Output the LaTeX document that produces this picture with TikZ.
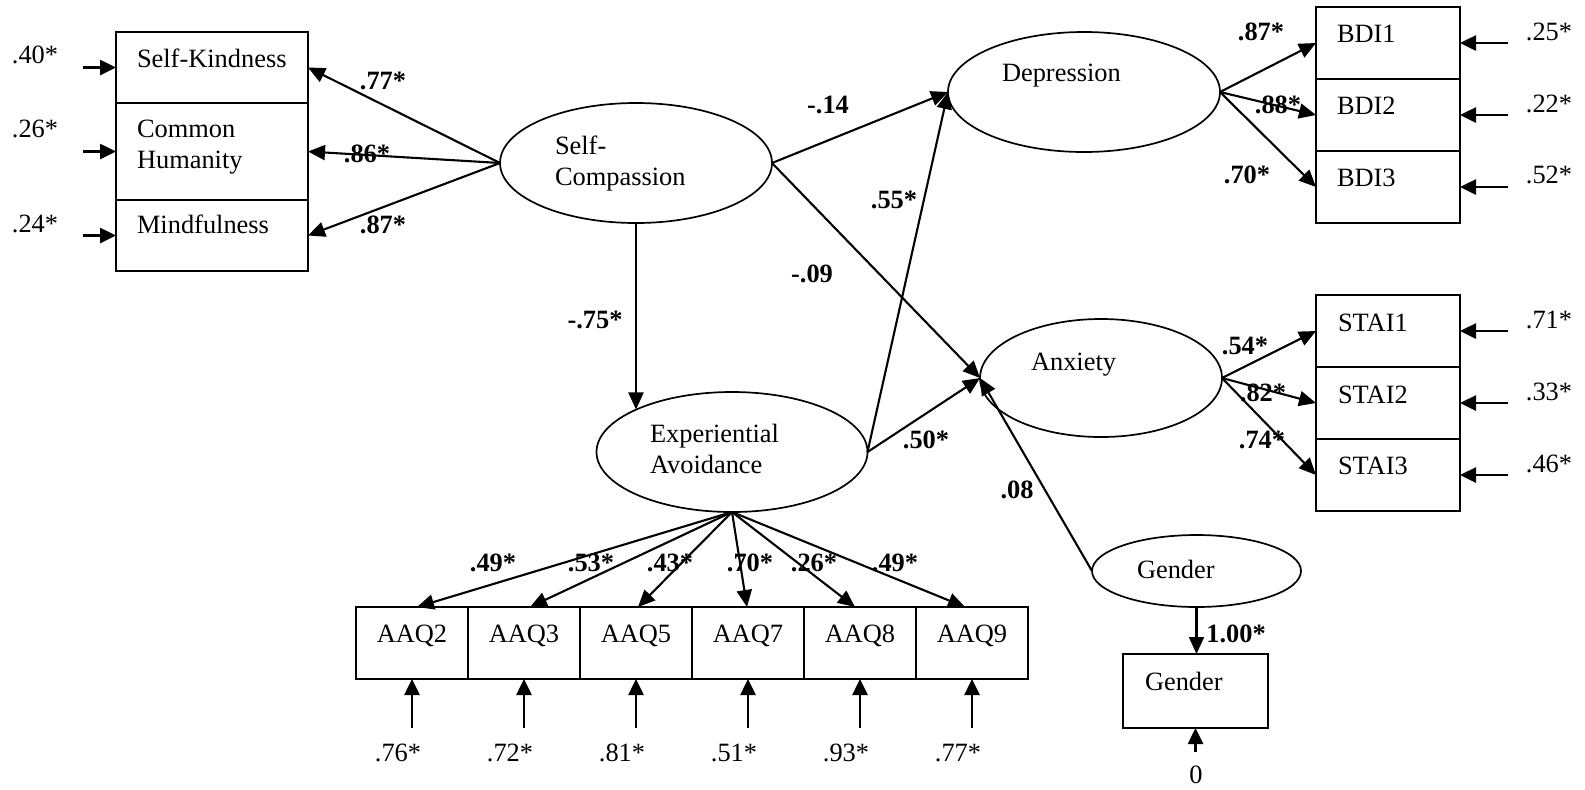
\documentclass[tikz,border=0pt]{standalone}
\usepackage{fontspec}
\setmainfont{Liberation Serif}
\usetikzlibrary{arrows.meta,shapes.geometric}
\begin{document}
\begin{tikzpicture}[x=0.5pt,y=-0.5pt,
  every node/.style={inner sep=0pt, outer sep=0pt, font=\fontsize{13.2}{15.5}\selectfont},
  obs/.style={draw, rectangle, line width=1pt},
  lat/.style={draw, ellipse, line width=0.85pt},
  lbl/.style={anchor=base west},
  coef/.style={anchor=base, font=\fontsize{13.2}{15.5}\selectfont\bfseries},
  errv/.style={anchor=base},
  causal/.style={line width=1.05pt, -{Triangle[length=8.5pt,width=7.5pt]}},
  errarrow/.style={line width=1.3pt, -{Triangle[length=8pt,width=7.5pt]}},
]
\useasboundingbox (0,0) rectangle (1585,789);

% ---------- Self-compassion indicators ----------
\node[obs, minimum width=96pt, minimum height=35.5pt] (sk) at (212,67.5) {};
\node[obs, minimum width=96pt, minimum height=48.5pt] (ch) at (212,151.5) {};
\node[obs, minimum width=96pt, minimum height=35.5pt] (mf) at (212,235.5) {};
\node[lbl] (skt) at (137,67) {Self-Kindness};
\node[lbl] (cht) at (137,168) {\begin{tabular}[b]{@{}l@{}}Common\\Humanity\end{tabular}};
\node[lbl] (mft) at (137,233) {Mindfulness};

% ---------- Latent variables ----------
\node[lat, minimum width=136pt, minimum height=60pt] (sc) at (636,163) {};
\node[lbl] (sct) at (555,185) {\begin{tabular}[b]{@{}l@{}}Self-\\Compassion\end{tabular}};
\node[lat, minimum width=135.5pt, minimum height=60pt] (ea) at (732,452) {};
\node[lbl] (eat) at (650,473) {\begin{tabular}[b]{@{}l@{}}Experiential\\Avoidance\end{tabular}};
\node[lat, minimum width=136pt, minimum height=60pt] (dep) at (1084,92) {};
\node[lbl] (dept) at (1002,81) {Depression};
\node[lat, minimum width=121pt, minimum height=59pt] (anx) at (1101,378) {};
\node[lbl] (anxt) at (1031,370) {Anxiety};
\node[lat, minimum width=104.5pt, minimum height=36pt] (gen) at (1196.5,571) {};
\node[lbl] (gent) at (1137,578) {Gender};

% ---------- Depression indicators ----------
\node[obs, minimum width=72pt, minimum height=36pt] (b1) at (1388,43) {};
\node[obs, minimum width=72pt, minimum height=36pt] (b2) at (1388,115) {};
\node[obs, minimum width=72pt, minimum height=36pt] (b3) at (1388,187) {};
\node[lbl] (b1t) at (1337,42) {BDI1};
\node[lbl] (b2t) at (1337,114) {BDI2};
\node[lbl] (b3t) at (1337,186) {BDI3};

% ---------- Anxiety indicators ----------
\node[obs, minimum width=72pt, minimum height=36pt] (s1) at (1388,331) {};
\node[obs, minimum width=72pt, minimum height=36pt] (s2) at (1388,403) {};
\node[obs, minimum width=72pt, minimum height=36pt] (s3) at (1388,475) {};
\node[lbl] (s1t) at (1338,331) {STAI1};
\node[lbl] (s2t) at (1338,403) {STAI2};
\node[lbl] (s3t) at (1338,474) {STAI3};

% ---------- Experiential avoidance indicators ----------
\foreach \n/\x in {2/412,3/524,5/636,7/748,8/860,9/972}{
  \node[obs, minimum width=56pt, minimum height=36pt] (q\n) at (\x,643) {};
  \node[anchor=base] (q\n t) at (\x,642) {AAQ\n};
}

% ---------- Gender indicator ----------
\node[obs, minimum width=72.5pt, minimum height=37pt] (gb) at (1195.5,691) {};
\node[lbl] (gbt) at (1145,690) {Gender};

% ---------- Loadings: self-compassion ----------
\draw[causal] (sc.west) -- (sk.east);
\draw[causal] (sc.west) -- (ch.east);
\draw[causal] (sc.west) -- (mf.east);
\node[coef] (l1) at (383,89) {.77*};
\node[coef] (l2) at (367,162) {.86*};
\node[coef] (l3) at (383,233) {.87*};

% ---------- Structural paths ----------
\draw[causal] (sc.south) -- (sc.south |- ea.156);
\draw[causal] (sc.east) -- (dep.west);
\draw[causal] (sc.east) -- (anx.west);
\draw[causal] (ea.east) -- (dep.west);
\draw[causal] (ea.east) -- (anx.west);
\draw[causal] (gen.west) -- (anx.west);
\node[coef] (p1) at (595,328) {-.75*};
\node[coef] (p2) at (828,113) {-.14};
\node[coef] (p3) at (812,282) {-.09};
\node[coef] (p4) at (894,208) {.55*};
\node[coef] (p5) at (926,448) {.50*};
\node[coef] (p6) at (1017,498) {.08};

% ---------- Loadings: depression and anxiety ----------
\draw[causal] (dep.east) -- (b1.west);
\draw[causal] (dep.east) -- (b2.west);
\draw[causal] (dep.east) -- (b3.west);
\node[coef] (d1) at (1261,40) {.87*};
\node[coef] (d2) at (1278,113) {.88*};
\node[coef] (d3) at (1247,183) {.70*};
\draw[causal] (anx.east) -- (s1.west);
\draw[causal] (anx.east) -- (s2.west);
\draw[causal] (anx.east) -- (s3.west);
\node[coef] (a1) at (1245,354) {.54*};
\node[coef] (a2) at (1263,401) {.82*};
\node[coef] (a3) at (1262,448) {.74*};

% ---------- Loadings: experiential avoidance ----------
\draw[causal] (ea.south) -- ([xshift=2.5pt]q2.north);
\draw[causal] (ea.south) -- ([xshift=3pt]q3.north);
\draw[causal] (ea.south) -- ([xshift=1pt]q5.north);
\draw[causal] (ea.south) -- ([xshift=-0.5pt]q7.north);
\draw[causal] (ea.south) -- ([xshift=-2.5pt]q8.north);
\draw[causal] (ea.south) -- ([xshift=-3.5pt]q9.north);
\node[coef] (e1) at (493,571) {.49*};
\node[coef] (e2) at (591,571) {.53*};
\node[coef] (e3) at (670,571) {.43*};
\node[coef] (e4) at (750,571) {.70*};
\node[coef] (e5) at (814,571) {.26*};
\node[coef] (e6) at (895,571) {.49*};

% ---------- Gender loading ----------
\draw[causal] (gen.south) -- (gen.south |- gb.north);
\node[coef] (g1) at (1236,642) {1.00*};

% ---------- Error terms ----------
\foreach \b/\v/\y in {sk/.40*/63, ch/.26*/137, mf/.24*/232}{
  \coordinate (r\b) at ([xshift=-16.5pt]\b.west);
  \draw[errarrow] (r\b) -- (\b.west);
  \node[errv] (v\b) at (35,\y) {\v};
}
\foreach \b/\v/\y in {b1/.25*/40, b2/.22*/112, b3/.52*/183, s1/.71*/328, s2/.33*/400, s3/.46*/472}{
  \coordinate (r\b) at ([xshift=24pt]\b.east);
  \draw[errarrow] (r\b) -- (\b.east);
  \node[errv] (v\b) at (1549,\y) {\v};
}
\foreach \b/\v in {q2/.76*, q3/.72*, q5/.81*, q7/.51*, q8/.93*, q9/.77*}{
  \coordinate (r\b) at ([yshift=-24.5pt]\b.south);
  \draw[errarrow] (r\b) -- (\b.south);
  \node[errv] (v\b) at ([xshift=-7pt,yshift=-41pt]\b.south) {\v};
}
\coordinate (rgb) at ([yshift=-12pt]gb.south);
\draw[errarrow] (rgb) -- (gb.south);
\node[errv] (vgb) at (1196,783) {0};
\end{tikzpicture}
\end{document}
